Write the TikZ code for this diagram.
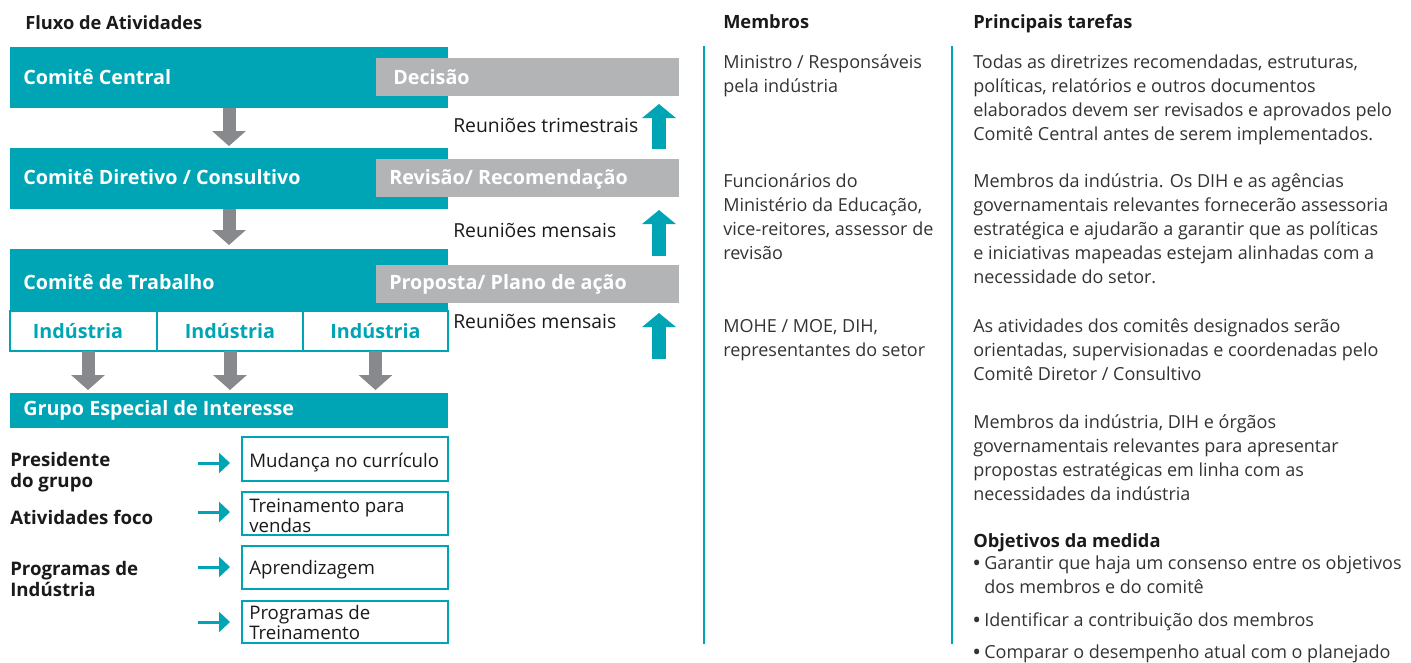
\documentclass[tikz,border=0pt]{standalone}
\usepackage{fontspec}
\setmainfont{Open Sans}
\usetikzlibrary{arrows.meta,fit}
\definecolor{tealc}{RGB}{0,165,181}
\definecolor{greyboxc}{RGB}{178,180,181}
\definecolor{greyarr}{RGB}{136,137,141}
\definecolor{bodytxt}{RGB}{51,51,51}
\definecolor{headtxt}{RGB}{26,26,26}
\newcommand\mlines[1]{\parbox[t]{14cm}{\raggedright #1}}
\newcommand\bul{\makebox[8.25pt][l]{\textbf{•}}}
\begin{document}
\begin{tikzpicture}[x=0.75pt,y=-0.75pt,
  tealbox/.style={fill=tealc,inner sep=0pt,outer sep=0pt},
  greybox/.style={fill=greyboxc,inner sep=0pt,outer sep=0pt},
  linebox/.style={draw=tealc,line width=1.125pt,fill=white,inner sep=0pt,outer sep=0pt},
  wlabel/.style={anchor=base west,inner sep=0pt,text=white,font=\bfseries\fontsize{14.8}{17}\selectfont},
  tlabel/.style={anchor=base,inner sep=0pt,text=tealc,font=\bfseries\fontsize{14.8}{17}\selectfont},
  head/.style={anchor=base west,inner sep=0pt,text=headtxt,font=\bfseries\fontsize{13.7}{18}\selectfont},
  body/.style={anchor=base west,inner sep=0pt,text=bodytxt,font=\fontsize{13.5}{18}\selectfont},
  meet/.style={anchor=base west,inner sep=0pt,text=headtxt,font=\fontsize{14.5}{17}\selectfont},
  side/.style={anchor=base west,inner sep=0pt,text=headtxt,font=\bfseries\fontsize{14}{16.1}\selectfont},
  boxtxt/.style={anchor=base west,inner sep=0pt,text=headtxt,font=\fontsize{14}{15.4}\selectfont},
  greyarrow/.style={draw=greyarr,line width=9.75pt,-{Triangle[width=24.75pt,length=11.25pt]}},
  tealarrow/.style={draw=tealc,line width=10.5pt,-{Triangle[width=24.75pt,length=10.5pt]}},
  smallarrow/.style={draw=tealc,line width=2.25pt,-{Triangle[width=15pt,length=8.25pt]}},
  sep/.style={draw=tealc,line width=1.125pt}
]
\useasboundingbox (0,0) rectangle (1411,662);

% headings
\node[head] (hflux) at (25,29) {Fluxo de Atividades};
\node[head] (hmem) at (723,28) {Membros};
\node[head] (htar) at (973,28) {Principais tarefas};

% main boxes
\node[tealbox,fit={(10,47) (448,108)}] (cc) {};
\node[greybox,fit={(376,58) (679,96)}] (dec) {};
\node[wlabel] (cct) at (23,84) {Comitê Central};
\node[wlabel] (dect) at (393,84) {Decisão};

\node[tealbox,fit={(10,148) (448,209)}] (cd) {};
\node[greybox,fit={(376,159) (679,197)}] (rev) {};
\node[wlabel] (cdt) at (23,184) {Comitê Diretivo / Consultivo};
\node[wlabel] (revt) at (389,184) {Revisão/ Recomendação};

\node[tealbox,fit={(10,249) (448,311)}] (ct) {};
\node[greybox,fit={(376,265) (679,303)}] (pro) {};
\node[wlabel] (ctt) at (23,289) {Comitê de Trabalho};
\node[wlabel] (prot) at (389,289) {Proposta/ Plano de ação};

\node[linebox,fit={(10,311) (157,351)}] (i1) {};
\node[linebox,fit={(157,311) (303,351)}] (i2) {};
\node[linebox,fit={(303,311) (448,351)}] (i3) {};
\node[tlabel] (i1t) at (78,338) {Indústria};
\node[tlabel] (i2t) at (i2.center |- 0,338) {Indústria};
\node[tlabel] (i3t) at (i3.center |- 0,338) {Indústria};

\node[tealbox,fit={(10,393) (448,428)}] (gs) {};
\node[wlabel] (gst) at (23,415) {Grupo Especial de Interesse};

% meetings
\node[meet] (m1) at (453,132) {Reuniões trimestrais};
\node[meet] (m2) at (453,237) {Reuniões mensais};
\node[meet] (m3) at (453,328) {Reuniões mensais};

% grey down arrows
\coordinate (ax1) at (88,0);
\draw[greyarrow,shorten >=1.5pt] (cc.south) -- (cd.north);
\draw[greyarrow,shorten >=3pt] (cd.south) -- (ct.north);
\draw[greyarrow,shorten >=2.25pt] (i1.south -| ax1) -- (gs.north -| ax1);
\draw[greyarrow,shorten >=2.25pt] (i2.south) -- (gs.north -| i2.south);
\draw[greyarrow,shorten >=2.25pt] (i3.south) -- (gs.north -| i3.south);

% teal up arrows
\coordinate (ux) at (659,0);
\coordinate (u3) at (659,359);
\draw[tealarrow,shorten <=7.5pt,shorten >=6pt] (rev.north -| ux) -- (dec.south -| ux);
\draw[tealarrow,shorten <=6.75pt,shorten >=9.75pt] (pro.north -| ux) -- (rev.south -| ux);
\draw[tealarrow,shorten >=7.5pt] (u3) -- (pro.south -| ux);

% group items
\node[side] (s1) at (10,466) {\mlines{Presidente\\do grupo}};
\node[side] (s2) at (10,524) {Atividades foco};
\node[side] (s3) at (10,575) {\mlines{Programas de\\Indústria}};

\node[linebox,fit={(242,437) (448,481)}] (b1) {};
\node[linebox,fit={(242,492) (448,535)}] (b2) {};
\node[linebox,fit={(242,546) (448,589)}] (b3) {};
\node[linebox,fit={(242,601) (448,643)}] (b4) {};
\node[boxtxt] (b1t) at (249,467) {Mudança no currículo};
\node[boxtxt] (b2t) at (249,512) {\mlines{Treinamento para\\vendas}};
\node[boxtxt] (b3t) at (249,574) {Aprendizagem};
\node[boxtxt] (b4t) at (249,619) {\mlines{Programas de\\Treinamento}};

\coordinate (r1) at (198,463);
\coordinate (r2) at (198,512);
\coordinate (r3) at (198,567);
\coordinate (r4) at (198,622);
\draw[smallarrow,shorten >=9pt] (r1) -- (b1.west |- r1);
\draw[smallarrow,shorten >=9pt] (r2) -- (b2.west |- r2);
\draw[smallarrow,shorten >=9pt] (r3) -- (b3.west |- r3);
\draw[smallarrow,shorten >=9pt] (r4) -- (b4.west |- r4);

% separators
\draw[sep] (704,46) -- (704,644);
\draw[sep] (952,46) -- (952,644);

% members
\node[body] (mb1) at (723,68) {\mlines{Ministro / Responsáveis\\pela indústria}};
\node[body] (mb2) at (723,187) {\mlines{Funcionários do\\Ministério da Educação,\\vice-reitores, assessor de\\revisão}};
\node[body] (mb3) at (723,332) {\mlines{MOHE / MOE, DIH,\\representantes do setor}};

% tasks
\node[body] (tk1) at (973,68) {\mlines{Todas as diretrizes recomendadas, estruturas,\\políticas, relatórios e outros documentos\\elaborados devem ser revisados e aprovados pelo\\Comitê Central antes de serem implementados.}};
\node[body] (tk2) at (973,187) {\mlines{Membros da indústria. Os DIH e as agências\\governamentais relevantes fornecerão assessoria\\estratégica e ajudarão a garantir que as políticas\\e iniciativas mapeadas estejam alinhadas com a\\necessidade do setor.}};
\node[body] (tk3) at (973,332) {\mlines{As atividades dos comitês designados serão\\orientadas, supervisionadas e coordenadas pelo\\Comitê Diretor / Consultivo}};
\node[body] (tk4) at (973,428) {\mlines{Membros da indústria, DIH e órgãos\\governamentais relevantes para apresentar\\propostas estratégicas em linha com as\\necessidades da indústria}};
\node[head] (obj) at (973,547) {Objetivos da medida};
\node[body] (bl1) at (973,569) {\mlines{\bul Garantir que haja um consenso entre os objetivos\\\hspace*{8.25pt}dos membros e do comitê}};
\node[body] (bl2) at (973,626) {\bul Identificar a contribuição dos membros};
\node[body] (bl3) at (973,658) {\bul Comparar o desempenho atual com o planejado};
\end{tikzpicture}
\end{document}
